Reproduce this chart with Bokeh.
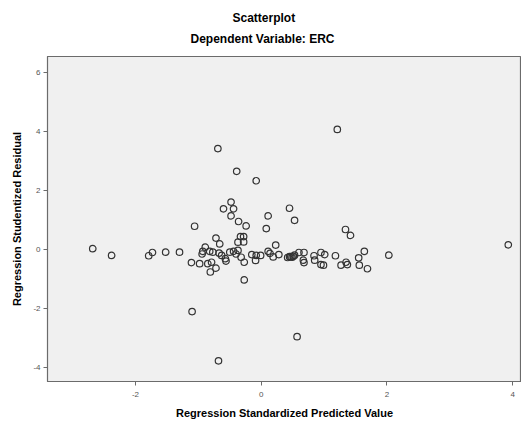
from bokeh.plotting import figure
from bokeh.models import Title, FixedTicker, Range1d, ColumnDataSource
from bokeh.embed import file_html
from bokeh.resources import INLINE

title_main = "Scatterplot"
title_sub = "Dependent Variable: ERC"
x_label = "Regression Standardized Predicted Value"
y_label = "Regression Studentized Residual"

x_ticks = [-2, 0, 2, 4]
x_tick_labels = ["-2", "0", "2", "4"]
y_ticks = [-4, -2, 0, 2, 4, 6]
y_tick_labels = ["-4", "-2", "0", "2", "4", "6"]

pred = [-2.68, -2.38, -1.79, -1.73, -1.52, -1.30, -1.11, -1.06, -1.10, -0.98,
        -0.89, -0.93, -0.94, -0.85, -0.79, -0.81, -0.72, -0.82, -0.77, -0.72,
        -0.66, -0.67, -0.63, -0.57, -0.56, -0.50, -0.44, -0.40, -0.37, -0.37,
        -0.33, -0.28, -0.28, -0.32, -0.27, -0.27, -0.15, -0.08, -0.01, -0.09,
        -0.69, -0.39, -0.08, -0.48, -0.60, -0.44, -0.48, -0.36, -0.24, 0.11,
        0.08, 0.45, 0.53, 0.23, 0.11, 0.14, 0.19, 0.28, 0.42, 0.45,
        0.47, 0.49, 0.51, 0.53, 0.60, 0.68, 0.67, 0.68, 0.84, 0.85,
        0.95, 1.01, 0.95, 0.99, 1.18, 1.27, 1.35, 1.37, 1.34, 1.42,
        1.55, 1.64, 1.56, 1.69, 2.03, 3.93, 1.21, 0.57, -0.68]
resid = [0.03, -0.20, -0.21, -0.10, -0.09, -0.09, -0.44, 0.79, -2.10, -0.48,
         0.08, -0.06, -0.15, -0.48, -0.43, -0.76, -0.63, -0.06, -0.09, 0.39,
         0.19, -0.12, -0.20, -0.31, -0.39, -0.09, -0.06, -0.15, -0.03, 0.25,
         0.44, 0.44, 0.26, -0.26, -0.43, -1.03, -0.17, -0.20, -0.20, -0.37,
         3.42, 2.65, 2.33, 1.61, 1.38, 1.38, 1.14, 0.95, 0.80, 1.14,
         0.71, 1.40, 0.99, 0.15, -0.06, -0.13, -0.25, -0.17, -0.27, -0.24,
         -0.24, -0.26, -0.23, -0.19, -0.10, -0.10, -0.36, -0.44, -0.21, -0.36,
         -0.10, -0.17, -0.51, -0.53, -0.21, -0.53, -0.43, -0.51, 0.68, 0.48,
         -0.28, -0.06, -0.53, -0.65, -0.19, 0.16, 4.07, -2.95, -3.77]

FONT = "Liberation Sans"

p = figure(width=521, height=421, output_backend="svg", toolbar_location=None,
           x_range=Range1d(-3.40, 4.14), y_range=Range1d(-4.47, 6.54),
           min_border_left=47, min_border_right=0, min_border_top=56, min_border_bottom=30,
           background_fill_color="#F0F0F0", border_fill_color="white",
           outline_line_color="#6b6b6b", outline_line_width=1.2)
p.title = None

sub = Title(text=title_sub, align="left", text_font=FONT, text_font_size="12px",
            text_font_style="bold", text_color="#000000", standoff=22, offset=143)
main = Title(text=title_main, align="left", text_font=FONT, text_font_size="12px",
             text_font_style="bold", text_color="#000000", standoff=-13, offset=185)
p.add_layout(sub, "above")
p.add_layout(main, "above")

src = ColumnDataSource(dict(x=pred, y=resid))
p.scatter("x", "y", source=src, marker="circle", size=6.5, fill_color=None,
          line_color="#333333", line_width=1.2)

p.xgrid.visible = False
p.ygrid.visible = False

for ax, ticks, labels, lab in ((p.xaxis[0], x_ticks, x_tick_labels, x_label),
                               (p.yaxis[0], y_ticks, y_tick_labels, y_label)):
    ax.ticker = FixedTicker(ticks=ticks)
    ax.major_label_overrides = {t: l for t, l in zip(ticks, labels)}
    ax.axis_label = lab
    ax.axis_label_text_font = FONT
    ax.axis_label_text_font_size = "11px"
    ax.axis_label_text_font_style = "bold"
    ax.axis_label_text_color = "#000000"
    ax.major_label_text_font = FONT
    ax.major_label_text_font_size = "8px"
    ax.major_label_text_color = "#555555"
    ax.axis_line_color = "#6b6b6b"
    ax.major_tick_line_color = "#6b6b6b"
    ax.major_tick_out = 4
    ax.major_tick_in = 0
    ax.minor_tick_line_color = None

p.xaxis[0].axis_label_standoff = 7
p.xaxis[0].major_label_standoff = 6
p.xaxis[0].axis_label_text_line_height = 0.8
p.yaxis[0].axis_label_standoff = 7
p.yaxis[0].major_label_standoff = 3

open("out.html", "w").write(file_html(p, INLINE))
